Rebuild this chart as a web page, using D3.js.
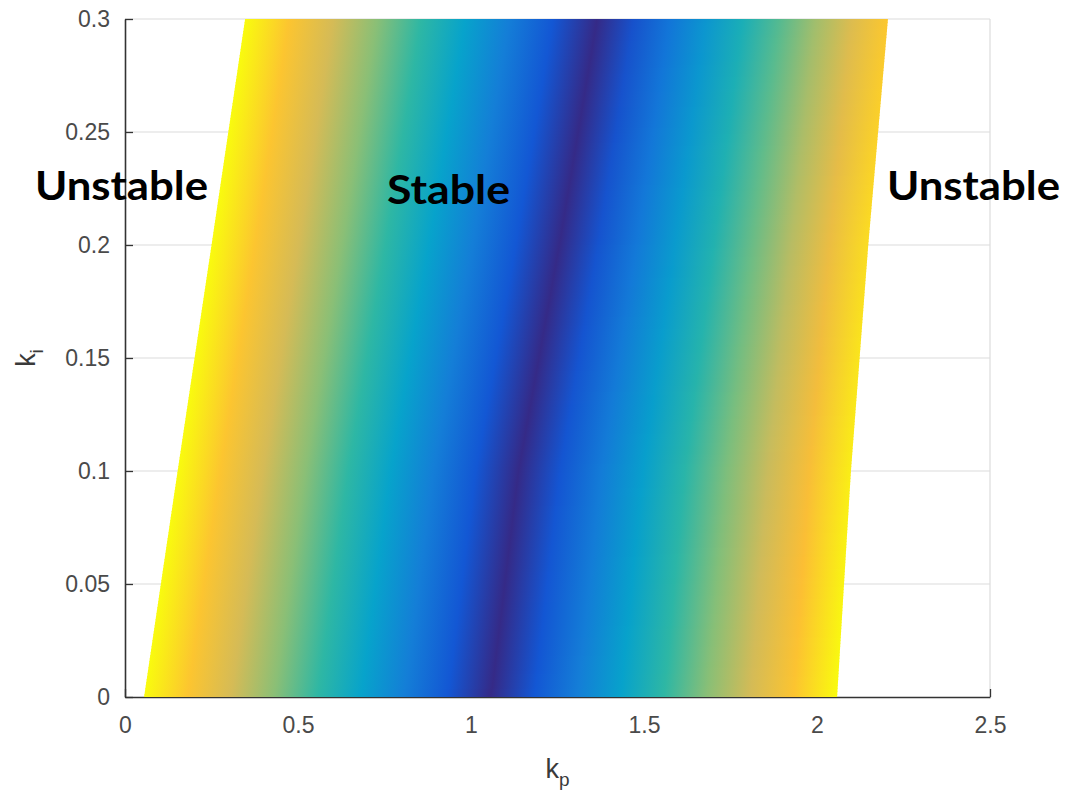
<!DOCTYPE html>
<html>
<head>
    <title>Stability region kp - ki</title>
    <script src="https://d3js.org/d3.v7.min.js"></script>
    <style>
        body { margin: 0; background: #fff; }
        .tick text { font-family: "Liberation Sans", Arial, sans-serif; font-size: 23px; fill: #4a4a4a; }
        .axis-label { font-family: "Liberation Sans", Arial, sans-serif; fill: #3a3a3a; }
        .region { font-family: Lato, "Open Sans", sans-serif; font-weight: bold; font-size: 41px; fill: #000; }
    </style>
</head>
<body>
    <script>
        const kiRows = [0, 0.1, 0.2, 0.3];
        const leftEdge = [0.055, 0.152, 0.25, 0.347];
        const centerLine = [1.058, 1.137, 1.255, 1.364];
        const rightEdge = [2.058, 2.098, 2.148, 2.205];
        // colour level reached at each edge (1 = yellow)
        const rightLevel = [1.0, 0.97, 0.93, 0.88];
        const leftLevel = [1.0, 1.0, 1.0, 1.0];

        // parula colormap
        const parula = ["#352a87", "#0f5cdd", "#1481d6", "#06a4ca", "#2eb7a4", "#87bf77", "#d1bb59", "#fcbe34", "#f9fb0e"];
        const parulaPos = [0, 0.14, 0.26, 0.38, 0.5, 0.62, 0.74, 0.86, 1];

        const xTicks = [0, 0.5, 1, 1.5, 2, 2.5];
        const yTicks = [0, 0.05, 0.1, 0.15, 0.2, 0.25, 0.3];

        const W = 1068, H = 799;
        const x = d3.scaleLinear().domain([0, 2.5]).range([125, 990]);
        const y = d3.scaleLinear().domain([0, 0.3]).range([697, 19]);

        const svg = d3.select("body").append("svg")
            .attr("width", W)
            .attr("height", H);

        // grid
        svg.append("g").selectAll("line")
            .data(yTicks.slice(1))
            .join("line")
            .attr("x1", x(0)).attr("x2", x(2.5))
            .attr("y1", d => y(d)).attr("y2", d => y(d))
            .attr("stroke", "#dcdcdc").attr("stroke-width", 1.2);
        svg.append("g").selectAll("line")
            .data(xTicks.slice(1))
            .join("line")
            .attr("x1", d => x(d)).attr("x2", d => x(d))
            .attr("y1", y(0)).attr("y2", y(0.3))
            .attr("stroke", "#dcdcdc").attr("stroke-width", 1.2);

        // axes (drawn below the surface, like MATLAB)
        const xAxis = svg.append("g")
            .attr("transform", `translate(0,${y(0)})`)
            .call(d3.axisBottom(x).tickValues(xTicks).tickFormat(d3.format("")).tickSizeInner(-8).tickSizeOuter(0).tickPadding(20));
        const yAxis = svg.append("g")
            .attr("transform", `translate(${x(0)},0)`)
            .call(d3.axisLeft(y).tickValues(yTicks).tickFormat(d3.format("")).tickSizeInner(-8).tickSizeOuter(0).tickPadding(15));
        [xAxis, yAxis].forEach(a => {
            a.select(".domain").attr("stroke", "#333").attr("stroke-width", 1.6);
            a.selectAll(".tick line").attr("stroke", "#333").attr("stroke-width", 1.3);
        });

        // surface
        const leftAt = d3.scaleLinear().domain(kiRows).range(leftEdge);
        const rightAt = d3.scaleLinear().domain(kiRows).range(rightEdge);
        const centerAt = d3.scaleLinear().domain(kiRows).range(centerLine);
        const rLevelAt = d3.scaleLinear().domain(kiRows).range(rightLevel);
        const lLevelAt = d3.scaleLinear().domain(kiRows).range(leftLevel);
        const colorAt = d3.scaleLinear()
            .domain(parulaPos)
            .range(parula)
            .interpolate(d3.interpolateRgb);

        const nStrips = 226;
        const step = 0.3 / nStrips;
        const strips = d3.range(nStrips).map(i => ({ i, k0: i * step, k1: (i + 1) * step }));
        const defs = svg.append("defs");
        const stopIdx = d3.range(parula.length);

        strips.forEach(s => {
            const km = (s.k0 + s.k1) / 2;
            const xl = x(leftAt(km)), xr = x(rightAt(km)), xc = x(centerAt(km));
            const c = (xc - xl) / (xr - xl);
            const n = parula.length - 1;
            const stops = [];
            stopIdx.forEach(j => stops.push({ o: c * j / n, t: (1 - j / n) * lLevelAt(km) }));
            stopIdx.slice(1).forEach(j => stops.push({ o: c + (1 - c) * j / n, t: (j / n) * rLevelAt(km) }));
            const g = defs.append("linearGradient")
                .attr("id", "g" + s.i)
                .attr("gradientUnits", "userSpaceOnUse")
                .attr("x1", xl).attr("x2", xr).attr("y1", 0).attr("y2", 0);
            g.selectAll("stop").data(stops).join("stop")
                .attr("offset", d => d.o)
                .attr("stop-color", d => colorAt(d.t));
        });

        svg.append("g").selectAll("polygon")
            .data(strips)
            .join("polygon")
            .attr("points", s => {
                const yb = y(s.k0) + (s.i > 0 ? 0.7 : 0);
                return [[x(leftAt(s.k0)), yb], [x(leftAt(s.k1)), y(s.k1)], [x(rightAt(s.k1)), y(s.k1)], [x(rightAt(s.k0)), yb]]
                    .map(p => p.join(",")).join(" ");
            })
            .attr("fill", s => `url(#g${s.i})`);

        // axis labels
        const xl = svg.append("text").attr("class", "axis-label")
            .attr("x", (x(0) + x(2.5)) / 2).attr("y", 778)
            .attr("text-anchor", "middle").style("font-size", "27px");
        xl.append("tspan").text("k");
        xl.append("tspan").attr("dy", 8).style("font-size", "19px").text("p");

        const yl = svg.append("text").attr("class", "axis-label")
            .attr("transform", `translate(35,${(y(0) + y(0.3)) / 2}) rotate(-90)`)
            .attr("text-anchor", "middle").style("font-size", "27px");
        yl.append("tspan").text("k");
        yl.append("tspan").attr("dy", 8).style("font-size", "19px").text("i");

        // region annotations
        const notes = [
            { text: "Unstable", x: 35, y: 200, w: 173 },
            { text: "Stable", x: 387, y: 204, w: 123 },
            { text: "Unstable", x: 887, y: 200, w: 173 }
        ];
        svg.append("g").selectAll("text")
            .data(notes)
            .join("text")
            .attr("class", "region")
            .attr("x", d => d.x).attr("y", d => d.y)
            .attr("textLength", d => d.w)
            .attr("lengthAdjust", "spacingAndGlyphs")
            .text(d => d.text);
    </script>
</body>
</html>
